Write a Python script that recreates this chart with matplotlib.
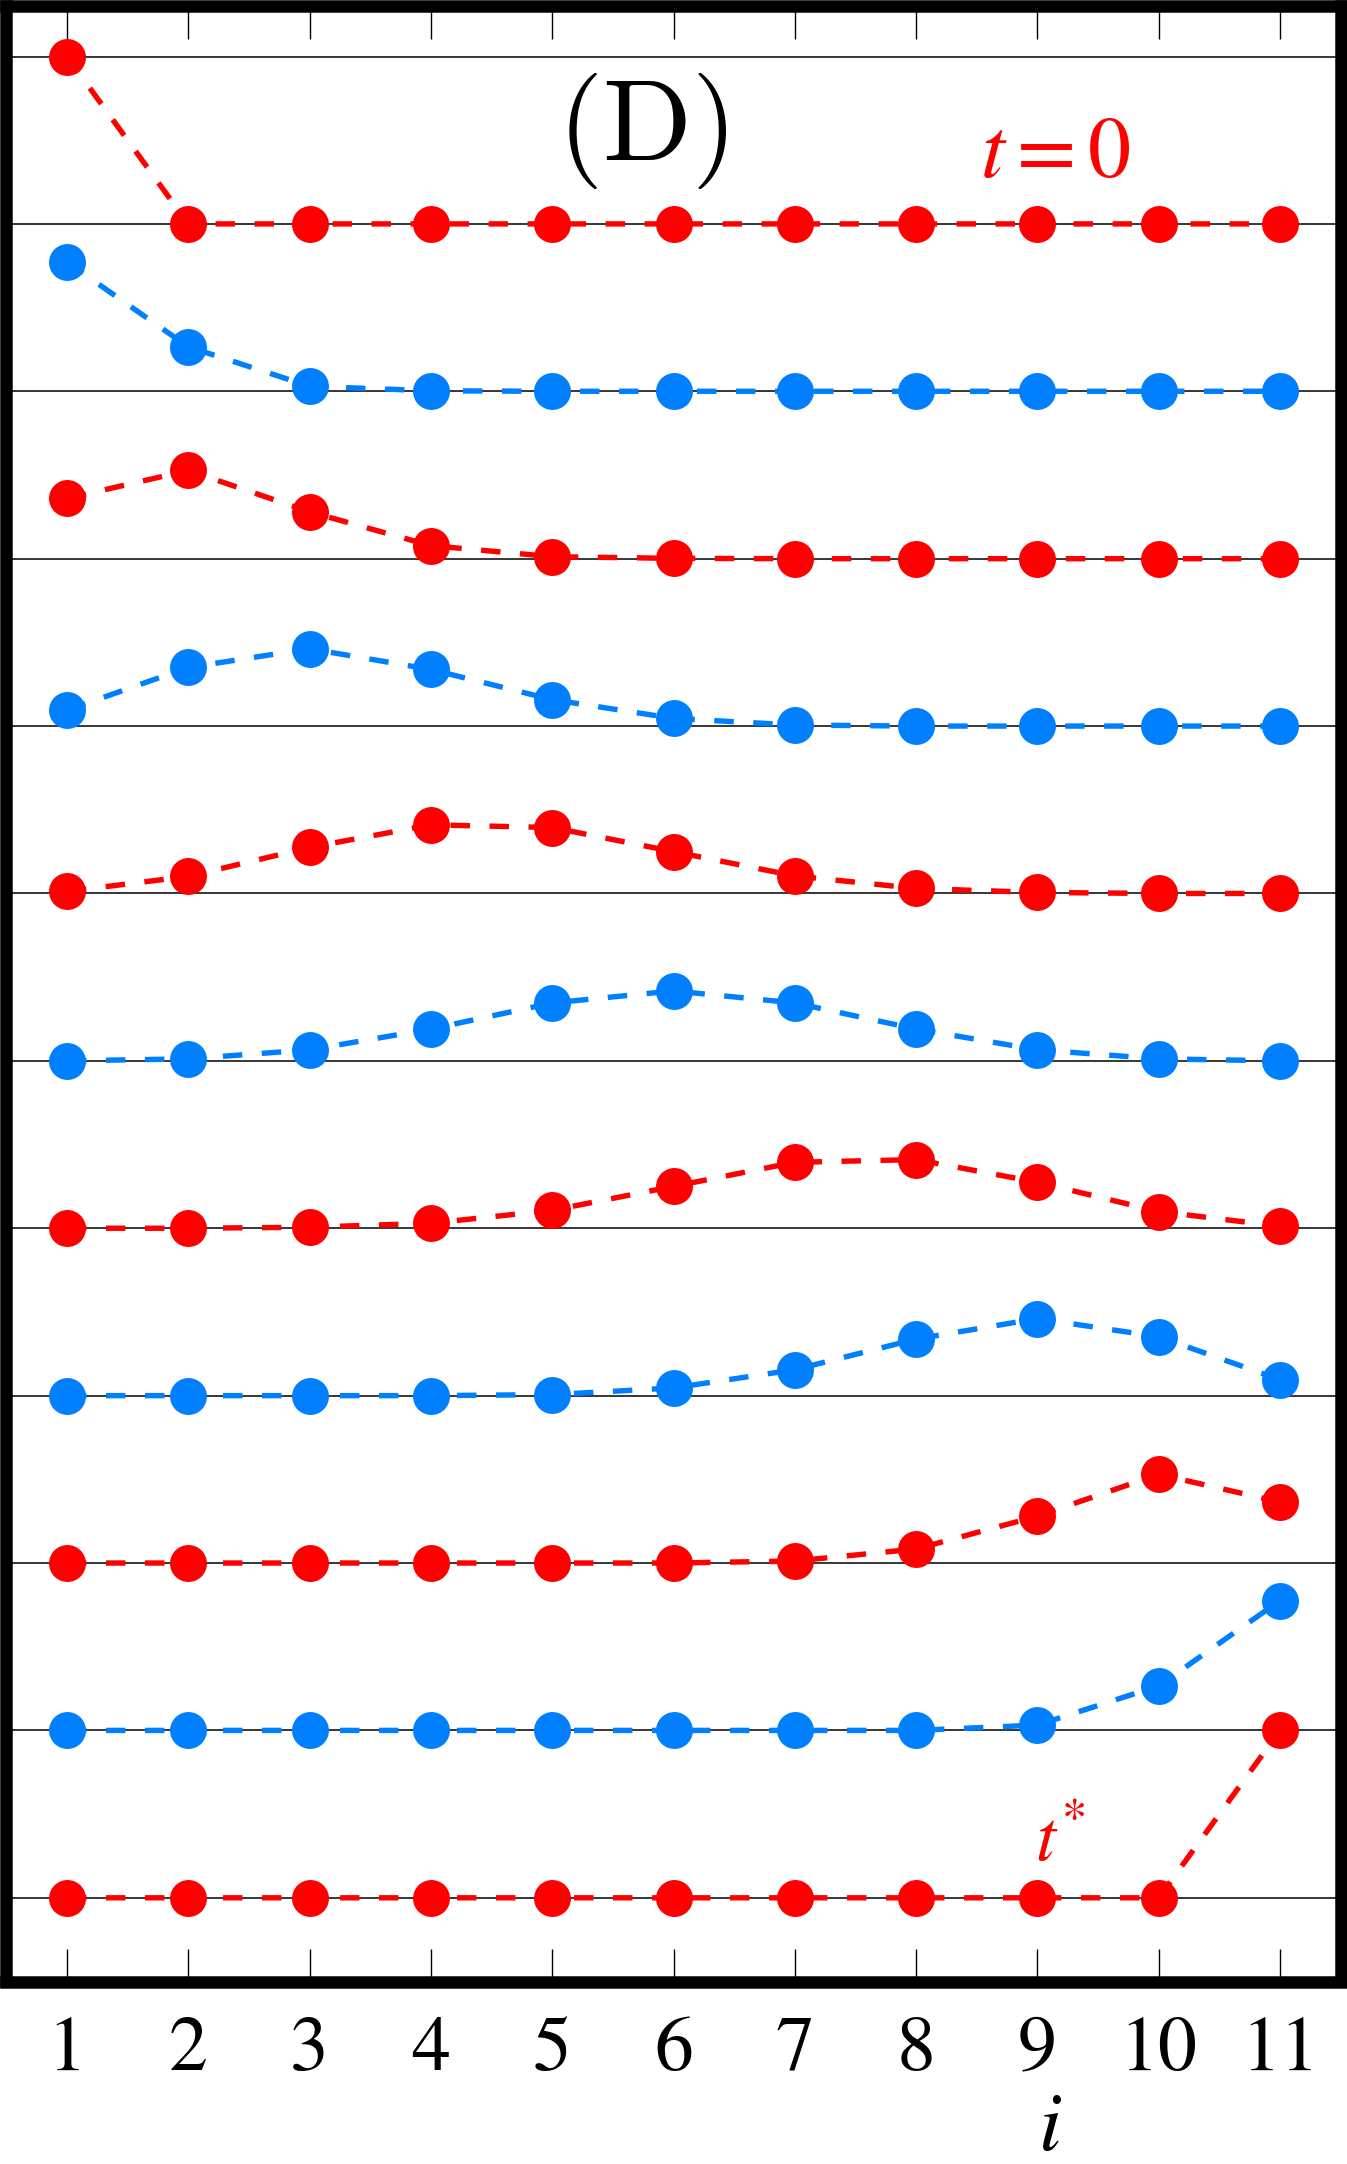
import numpy as np
import matplotlib
matplotlib.use('Agg')
import matplotlib.pyplot as plt

plt.rcParams['font.family'] = ['STIXGeneral', 'DejaVu Serif']
plt.rcParams['mathtext.fontset'] = 'stix'

# ── data ─────────────────────────────────────────────────────────────────────
sites = [1, 2, 3, 4, 5, 6, 7, 8, 9, 10, 11]

# one profile per time step, top (t=0) to bottom (t*)
p0  = [1.00, 0.00, 0.00, 0.00, 0.00, 0.00, 0.00, 0.00, 0.00, 0.00, 0.00]
p1  = [0.772, 0.266, 0.030, 0.003, 0.00, 0.00, 0.00, 0.00, 0.00, 0.00, 0.00]
p2  = [0.360, 0.527, 0.280, 0.078, 0.012, 0.002, 0.00, 0.00, 0.00, 0.00, 0.00]
p3  = [0.095, 0.350, 0.462, 0.338, 0.158, 0.046, 0.006, 0.00, 0.00, 0.00, 0.00]
p4  = [0.012, 0.102, 0.275, 0.410, 0.394, 0.250, 0.105, 0.030, 0.006, 0.00, 0.00]
p5  = [0.000, 0.012, 0.066, 0.190, 0.346, 0.418, 0.346, 0.190, 0.066, 0.012, 0.00]
p6  = [0.00, 0.00, 0.006, 0.030, 0.107, 0.250, 0.394, 0.410, 0.275, 0.100, 0.012]
p7  = [0.00, 0.00, 0.00, 0.00, 0.006, 0.046, 0.155, 0.338, 0.460, 0.352, 0.095]
p8  = [0.00, 0.00, 0.00, 0.00, 0.00, 0.00, 0.012, 0.084, 0.280, 0.530, 0.364]
p9  = [0.00, 0.00, 0.00, 0.00, 0.00, 0.00, 0.00, 0.00, 0.032, 0.266, 0.776]
p10 = [0.00, 0.00, 0.00, 0.00, 0.00, 0.00, 0.00, 0.00, 0.00, 0.00, 1.00]

profiles = [p0, p1, p2, p3, p4, p5, p6, p7, p8, p9, p10]
colors = ['#ff0000', '#0080ff']
# ─────────────────────────────────────────────────────────────────────────────

W, H = 1347, 2164
fig = plt.figure(figsize=(W / 100, H / 100), dpi=100)
ax = fig.add_axes([6.3 / W, 1 - 1981.5 / H, (1340.7 - 6.3) / W, (1981.5 - 6.3) / H])

n = len(profiles)
for lv in range(n + 1):
    ax.axhline(lv, color='black', lw=1.1, zorder=1)

for k, prof in enumerate(profiles):
    off = n - 1 - k
    y = off + np.array(prof)
    ax.plot(sites, y, ls='--', dashes=(3.6, 3.6), lw=3.9, color=colors[k % 2],
            marker='o', ms=26.6, mec='none', zorder=2 + k * 0.01)

ax.set_xlim(0.5, 11.5)
ax.set_ylim(-0.5, 11.3)
ax.set_xticks(sites)
ax.set_yticks([])
ax.tick_params(axis='x', direction='in', top=True, bottom=True,
               length=24, width=1.0, labelsize=56, pad=25)
for sp in ax.spines.values():
    sp.set_linewidth(9)

ax.text(0.4764, 0.9369, r'$(\mathrm{D})$', transform=ax.transAxes, fontsize=84,
        ha='center', va='center', math_fontfamily='cm')
ax.text(0.786, 0.9237, r'$t=0$', transform=ax.transAxes, fontsize=62,
        color='#ff0000', ha='center', va='center')
ax.text(0.7896, 0.0701, r'$t^{*}$', transform=ax.transAxes, fontsize=52,
        color='#ff0000', ha='center', va='center')
ax.text(0.782, -0.0755, r'$i$', transform=ax.transAxes, fontsize=60,
        ha='center', va='center', clip_on=False)

fig.savefig('out.png', dpi=100)
